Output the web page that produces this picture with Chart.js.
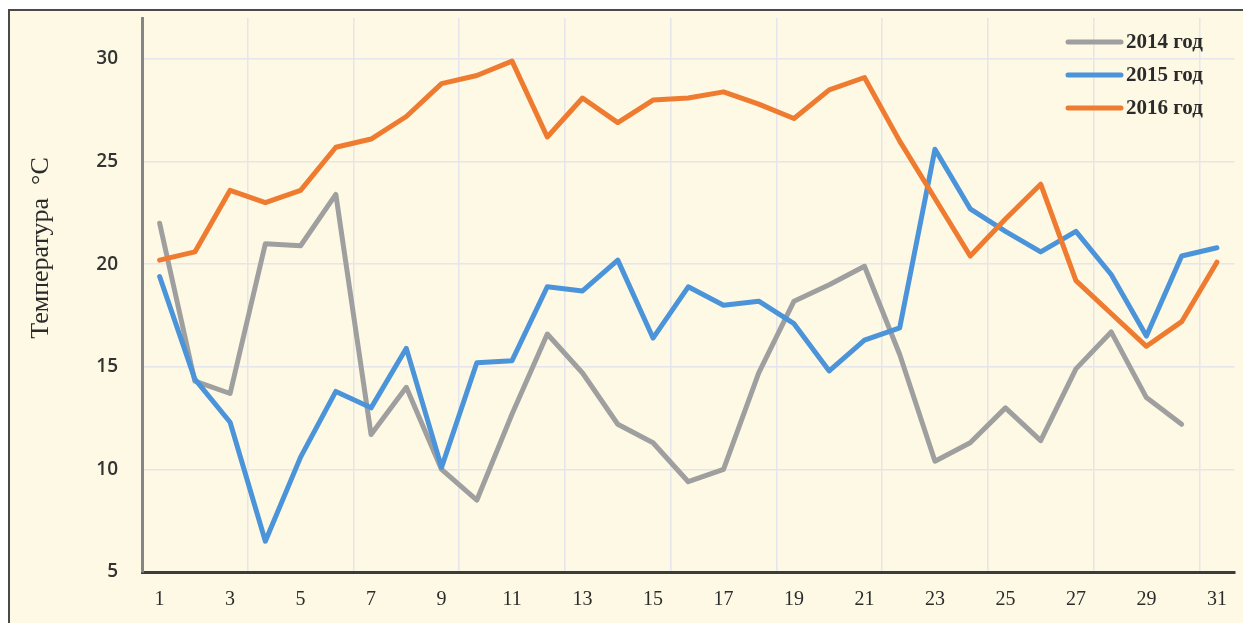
<!DOCTYPE html>
<html>
	<head>
		<meta charset="UTF-8">
		<title></title>
		<script src="https://cdn.jsdelivr.net/npm/chart.js@4.4.1/dist/chart.umd.min.js"></script>
		<style type="text/css">
			*{
				margin: 0;
				padding: 0;
			}
			body{
				background: #fff;
				width: 1243px;
				height: 623px;
				overflow: hidden;
				position: relative;
			}
			#frame{
				position: absolute;
				left: 8px;
				top: 9px;
				width: 1250px;
				height: 630px;
				background: #fdf9e4;
				border-left: 2px solid #4a4a4a;
				border-top: 2px solid #4a4a4a;
			}
			#chart{
				position: absolute;
				left: 0;
				top: 0;
			}
		</style>
	</head>
	<body>
		<div id="frame"></div>
		<canvas id="chart" width="1243" height="623"></canvas>
		<script type="text/javascript">
			// дни месяца
			var days = [];
			for (var d = 1; d <= 31; d++) days.push(String(d));

			var seriesNames = ["2014 год", "2015 год", "2016 год"];
			var seriesColors = ["#9f9f9f", "#4b94da", "#ee7b30"];

			var t2014 = [22.0, 14.3, 13.7, 21.0, 20.9, 23.4, 11.7, 14.0, 10.0, 8.5,
				12.7, 16.6, 14.7, 12.2, 11.3, 9.4, 10.0, 14.7, 18.2, 19.0,
				19.9, 15.6, 10.4, 11.3, 13.0, 11.4, 14.9, 16.7, 13.5, 12.2, null];
			var t2015 = [19.4, 14.4, 12.3, 6.5, 10.6, 13.8, 13.0, 15.9, 10.1, 15.2,
				15.3, 18.9, 18.7, 20.2, 16.4, 18.9, 18.0, 18.2, 17.1, 14.8,
				16.3, 16.9, 25.6, 22.7, 21.6, 20.6, 21.6, 19.5, 16.5, 20.4, 20.8];
			var t2016 = [20.2, 20.6, 23.6, 23.0, 23.6, 25.7, 26.1, 27.2, 28.8, 29.2,
				29.9, 26.2, 28.1, 26.9, 28.0, 28.1, 28.4, 27.8, 27.1, 28.5,
				29.1, 26.0, 23.2, 20.4, 22.2, 23.9, 19.2, 17.6, 16.0, 17.2, 20.1];

			var yTicks = [5, 10, 15, 20, 25, 30];

			function makeSet(i, values){
				return {
					label: seriesNames[i],
					data: values,
					borderColor: seriesColors[i],
					backgroundColor: seriesColors[i],
					borderWidth: 5,
					borderJoinStyle: "round",
					borderCapStyle: "round",
					pointRadius: 0,
					tension: 0,
					spanGaps: false,
					order: 3 - i
				};
			}

			// легенда в правом верхнем углу
			var legendPlugin = {
				id: "cornerLegend",
				afterDraw: function(chart){
					var ctx = chart.ctx;
					ctx.save();
					chart.data.datasets.forEach(function(ds, i){
						var y = 42 + i * 33;
						ctx.strokeStyle = ds.borderColor;
						ctx.lineWidth = 5;
						ctx.lineCap = "round";
						ctx.beginPath();
						ctx.moveTo(1068, y);
						ctx.lineTo(1121, y);
						ctx.stroke();
						ctx.fillStyle = "#2b2b2b";
						ctx.font = "bold 21px 'Liberation Serif'";
						ctx.textBaseline = "middle";
						ctx.fillText(ds.label, 1126, y + 1);
					});
					ctx.restore();
				}
			};

			// подпись оси Y
			var yTitlePlugin = {
				id: "yTitle",
				afterDraw: function(chart){
					var ctx = chart.ctx;
					ctx.save();
					ctx.translate(48, 248);
					ctx.rotate(-Math.PI / 2);
					ctx.fillStyle = "#2b2b2b";
					ctx.font = "26px 'Liberation Serif'";
					ctx.textAlign = "center";
					ctx.textBaseline = "alphabetic";
					ctx.fillText("Температура  °С", 0, 0);
					ctx.restore();
				}
			};

			var ctx = document.getElementById("chart").getContext("2d");
			var chart = new Chart(ctx, {
				type: "line",
				data: {
					labels: days,
					datasets: [makeSet(0, t2014), makeSet(1, t2015), makeSet(2, t2016)]
				},
				options: {
					responsive: false,
					animation: false,
					layout: { padding: { left: 0, top: 18, right: 6, bottom: 0 } },
					plugins: {
						legend: { display: false },
						tooltip: { enabled: false }
					},
					scales: {
						x: {
							type: "category",
							offset: true,
							afterFit: function(scale){ scale.height = 51; },
							grid: {
								offset: true,
								drawTicks: false,
								lineWidth: 1.5,
								color: function(c){
									return (c.index > 0 && c.index % 3 === 0) ? "#e6e4ec" : "rgba(0,0,0,0)";
								}
							},
							border: { display: true, color: "#3c3c3c", width: 3 },
							ticks: {
								autoSkip: false,
								maxRotation: 0,
								padding: 16,
								color: "#2b2b2b",
								font: { family: "'Liberation Serif'", size: 20 },
								callback: function(v, i){ return i % 2 === 0 ? days[i] : ""; }
							}
						},
						y: {
							min: 5,
							max: 32,
							afterFit: function(scale){
								scale.width = 142;
								scale.paddingTop = 0;
								scale.paddingBottom = 0;
							},
							afterBuildTicks: function(scale){
								scale.ticks = yTicks.map(function(v){ return { value: v }; });
							},
							grid: {
								drawTicks: false,
								lineWidth: 1.5,
								color: function(c){
									return c.tick && c.tick.value === 5 ? "rgba(0,0,0,0)" : "#e6e4ec";
								}
							},
							border: { display: true, color: "#858585", width: 3 },
							ticks: {
								padding: 24,
								color: "#333",
								font: { family: "'Open Sans'", size: 19, weight: "600" }
							}
						}
					}
				},
				plugins: [legendPlugin, yTitlePlugin]
			});
		</script>
	</body>
</html>
